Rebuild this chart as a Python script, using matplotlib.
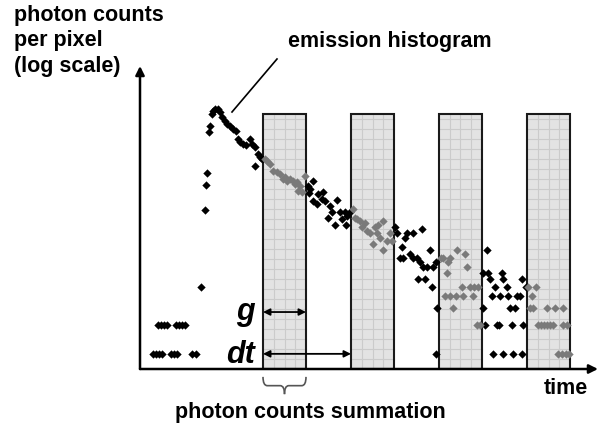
import matplotlib
matplotlib.use("Agg")
import matplotlib.pyplot as plt
import numpy as np
from matplotlib.path import Path
from matplotlib.patches import PathPatch, Rectangle
from matplotlib.lines import Line2D
import matplotlib.transforms as mtransforms

plt.rcParams['font.family'] = ['Liberation Sans', 'DejaVu Sans']

# ---------------- data (time in ps, photon counts per bin) ----------------
time_ps = [
    325, 400, 475, 550, 775, 850, 925, 1300, 1400,
    450, 525, 600, 675, 900, 975, 1050, 1125,
    1525,
    1625, 1650, 1675, 1725, 1750, 1800, 1825, 1875, 1950, 2000, 2050, 2125, 2175,
    2250, 2325, 2400, 2450, 2500, 2575, 2650, 2750, 2800, 2875, 2875, 2950, 3000, 3050,
    3125, 3175, 3250, 3325, 3425, 3500, 3575, 3625, 3675, 3750, 3825, 3875, 3925,
    3950, 4000, 4050, 4125,
    4200, 4250, 4225, 4325, 4325, 4425, 4450, 4575, 4550, 4625, 4750, 4800, 4700,
    4875, 4925, 5000, 5050, 5125, 5150, 5175, 5250,
    5325, 5375, 5425, 5500, 5550, 5625, 5675, 5750, 5825, 5875, 5925, 5950, 6000,
    6075, 6075, 6175, 6250, 6300,
    6375, 6425, 6500, 6550, 6575, 6625, 6675, 6750, 6825, 6825, 6925, 6950, 7000,
    7050, 7075, 7125, 7175, 7250, 7300, 7325, 7400, 7400, 7425,
    7525, 7575, 7700, 7675, 7750, 7925, 8125, 8175, 8050, 8250, 8350, 8450,
    7625, 7750, 7900, 8075, 8325, 7825, 8425, 8500,
    8675, 8575, 8700, 8750, 9050, 9075, 9550, 8875, 9175, 9650, 8800, 9000, 9200,
    9425, 9500, 8575, 9250, 9375, 8625, 8925, 8975, 9300, 9575, 8825, 9075, 9325, 9550,
    9800, 9700, 9900, 9750, 9825, 10175, 10375, 10575, 9950, 10025, 10100, 10175,
    10250, 10325, 10575, 10675, 10450, 10550, 10650, 10725,
]
counts = [
    1, 1, 1, 1, 1, 1, 1, 1, 1,
    2, 2, 2, 2, 2, 2, 2, 2,
    5,
    31, 57, 76, 202, 233, 310, 333, 349, 349, 325, 289, 262, 244,
    233, 216, 206, 170, 159, 151, 147, 170, 151, 140, 89, 119, 111, 105,
    105, 101, 94, 79, 77, 74, 66, 69, 62, 66, 62, 58, 61,
    49, 55, 48, 70,
    55, 52, 47, 62, 39, 36, 46, 48, 41, 39, 34, 30, 26,
    22, 40, 30, 25, 30, 22, 27, 30,
    32, 26, 25, 24, 21, 23, 19, 18, 14, 21, 18, 22, 16,
    24, 12, 15, 18, 15,
    21, 18, 10, 13, 10, 16, 18, 11, 10, 18, 10, 6, 9,
    20, 8, 6, 8, 12, 5, 8, 9, 1, 3,
    10, 10, 9, 7, 10, 12, 11, 8, 5, 5, 5, 5,
    4, 4, 4, 4, 4, 3, 2, 2,
    12, 7, 7, 6, 7, 6, 6, 5, 5, 5, 4, 4, 4,
    4, 4, 3, 3, 3, 2, 2, 2, 2, 2, 1, 1, 1, 1,
    4, 5, 5, 3, 3, 3, 3, 3, 2, 2, 2, 2,
    2, 2, 2, 2, 1, 1, 1, 1,
]
gate_starts_ps = [3075, 5275, 7475, 9675]
gate_width_ps = 1075

# ---------------- figure ----------------
W, H = 600, 427
fig = plt.figure(figsize=(W / 100, H / 100), dpi=100)
ax = fig.add_axes([140 / W, 57 / H, 458 / W, 303 / H])
ax.set_yscale('log')
ax.set_xlim(0, 11450)
ax.set_ylim(2 ** (-15 / 29), 2 ** (288 / 29))
for s in ax.spines.values():
    s.set_visible(False)
ax.set_xticks([]); ax.set_yticks([])
ax.yaxis.set_minor_locator(matplotlib.ticker.NullLocator())

blend = mtransforms.blended_transform_factory(ax.transData, ax.transAxes)
gate_top = 0.8416
for g0 in gate_starts_ps:
    ax.add_patch(Rectangle((g0, 0), gate_width_ps, gate_top, transform=blend,
                           facecolor='#e3e3e3', edgecolor='none', zorder=1))
    for k in range(1, 4):
        xv = g0 + gate_width_ps * k / 4
        ax.plot([xv, xv], [0, gate_top], transform=blend, color='#cbcbcb', lw=0.8, zorder=1.5)
    yv = 10 / 303
    while yv < gate_top - 0.005:
        ax.plot([g0, g0 + gate_width_ps], [yv, yv], transform=blend, color='#cbcbcb', lw=0.8, zorder=1.5)
        yv += 10 / 303
    ax.add_patch(Rectangle((g0, 0), gate_width_ps, gate_top, transform=blend,
                           facecolor='none', edgecolor='#1a1a1a', lw=1.5, zorder=2))

t = np.array(time_ps)
c = np.array(counts)
in_gate = np.zeros(len(t), dtype=bool)
for g0 in gate_starts_ps:
    in_gate |= (t >= g0) & (t <= g0 + gate_width_ps)
ax.scatter(t[~in_gate], c[~in_gate], marker='D', s=18, color='black', linewidths=0, zorder=3)
ax.scatter(t[in_gate], c[in_gate], marker='D', s=18, color='#7a7a7a', linewidths=0, zorder=3)

# axes with arrows
ax.annotate('', xy=(1, 0), xytext=(0, 0), xycoords='axes fraction',
            arrowprops=dict(arrowstyle='-|>', lw=1.8, color='black', mutation_scale=13,
                            shrinkA=0, shrinkB=0), zorder=4)
ax.annotate('', xy=(0, 1), xytext=(0, 0), xycoords='axes fraction',
            arrowprops=dict(arrowstyle='-|>', lw=1.8, color='black', mutation_scale=13,
                            shrinkA=0, shrinkB=0), zorder=4)

# g and dt arrows
g0 = gate_starts_ps[0]
ax.annotate('', xy=(g0 + gate_width_ps, 0.188), xytext=(g0, 0.188),
            xycoords=('data', 'axes fraction'),
            arrowprops=dict(arrowstyle='<|-|>', lw=1.3, color='black', mutation_scale=10,
                            shrinkA=0, shrinkB=0), zorder=4)
ax.annotate('', xy=(gate_starts_ps[1], 0.05), xytext=(g0, 0.05),
            xycoords=('data', 'axes fraction'),
            arrowprops=dict(arrowstyle='<|-|>', lw=1.3, color='black', mutation_scale=10,
                            shrinkA=0, shrinkB=0), zorder=4)
ax.text(g0 - 200, 0.19, 'g', transform=blend, ha='right', va='center',
        fontsize=22, fontweight='bold', fontstyle='italic')
ax.text(g0 - 200, 0.05, 'dt', transform=blend, ha='right', va='center',
        fontsize=22, fontweight='bold', fontstyle='italic')

# curly brace under the first gate
xL, xR = g0, g0 + gate_width_ps
xc = (xL + xR) / 2
r = gate_width_ps * 0.1
yt, ym, yb = -0.026, -0.055, -0.083
verts_l = [(xL, yt), (xL, ym), (xL + r, ym), (xc - r, ym), (xc, ym), (xc, yb)]
verts_r = [(xc, yb), (xc, ym), (xc + r, ym), (xR - r, ym), (xR, ym), (xR, yt)]
codes = [Path.MOVETO, Path.CURVE3, Path.CURVE3, Path.LINETO, Path.CURVE3, Path.CURVE3]
for v in (verts_l, verts_r):
    ax.add_patch(PathPatch(Path(v, codes), transform=blend, facecolor='none',
                           edgecolor='#555555', lw=1.2, clip_on=False))

# texts
def ftext(x, y, s, **kw):
    fig.text(x / W, 1 - y / H, s, fontweight='bold', **kw)

ftext(14, 5, 'photon counts\nper pixel\n(log scale)', fontsize=15.5, ha='left', va='top',
      linespacing=1.27)
ftext(390, 41, 'emission histogram', fontsize=15.5, ha='center', va='center')
ftext(310, 413, 'photon counts summation', fontsize=15.5, ha='center', va='center')
ftext(566, 389, 'time', fontsize=15.5, ha='center', va='center')

fig.add_artist(Line2D([277 / W, 232 / W], [1 - 60 / H, 1 - 113 / H], color='black', lw=1.2))

fig.savefig('out.png', dpi=100)
